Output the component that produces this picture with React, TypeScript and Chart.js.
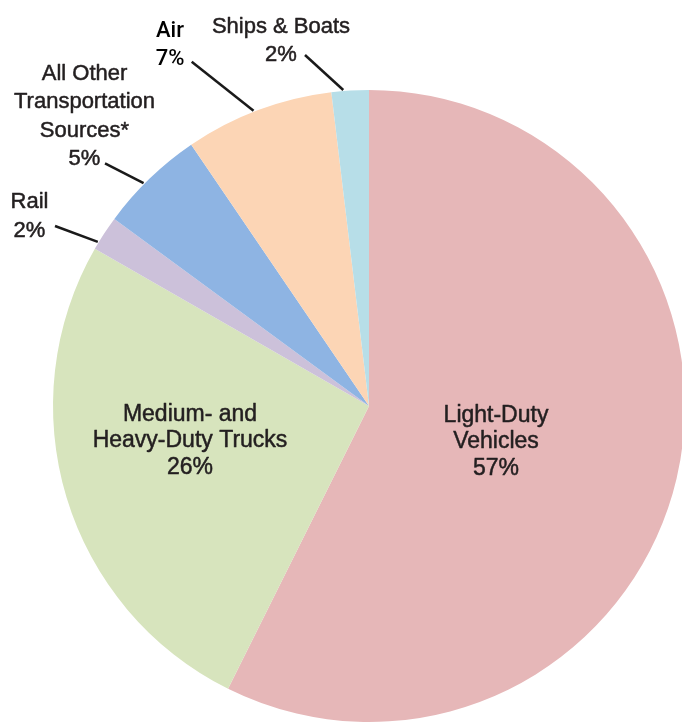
import React, { useEffect, useRef } from 'react';
import { Chart, registerables } from 'chart.js';

Chart.register(...registerables);

// ---- data ----
const categories = [
  'Light-Duty Vehicles',
  'Medium- and Heavy-Duty Trucks',
  'Rail',
  'All Other Transportation Sources*',
  'Air',
  'Ships & Boats',
];
const shareValues = [57.3, 25.9, 1.8, 5.4, 7.6, 1.9];
const percentLabels = ['57%', '26%', '2%', '5%', '7%', '2%'];
const labelLines = [
  ['Light-Duty', 'Vehicles'],
  ['Medium- and', 'Heavy-Duty Trucks'],
  ['Rail'],
  ['All Other', 'Transportation', 'Sources*'],
  ['Air'],
  ['Ships & Boats'],
];
const sliceColors = ['#E6B7B8', '#D7E4BD', '#CCC1DA', '#8EB4E3', '#FCD5B5', '#B7DEE8'];

// ---- label placement (relative to pie centre) ----
type Placement = {
  x: number;
  y: number; // first baseline
  lh: number;
  size: number;
  font: string;
  color: string;
  leader?: { sx: number; sy: number; frac: number };
};
const placements: Placement[] = [
  { x: 127, y: 15.7, lh: 26.7, size: 23, font: '"Liberation Sans"', color: '#231F20' },
  { x: -179, y: 14.7, lh: 26.7, size: 23, font: '"Liberation Sans"', color: '#231F20' },
  { x: -339.5, y: -197.7, lh: 29, size: 22, font: '"Liberation Sans"', color: '#231F20', leader: { sx: -314, sy: -180, frac: 0.21 } },
  { x: -284.5, y: -326.5, lh: 28.6, size: 22, font: '"Liberation Sans"', color: '#231F20', leader: { sx: -264, sy: -242.7, frac: 0.43 } },
  { x: -199, y: -369.3, lh: 28.3, size: 22, font: 'Roboto', color: '#000000', leader: { sx: -177.3, sy: -344.3, frac: 0.47 } },
  { x: -88, y: -373.5, lh: 28, size: 22, font: '"Liberation Sans"', color: '#231F20', leader: { sx: -64, sy: -351, frac: 0.32 } },
];

const labelPlugin = {
  id: 'pieLabels',
  afterDraw(chart: any) {
    const ctx = chart.ctx as CanvasRenderingContext2D;
    const meta = chart.getDatasetMeta(0);
    ctx.save();
    meta.data.forEach((arc: any, i: number) => {
      const p = placements[i];
      const cx = arc.x;
      const cy = arc.y;
      const lines = [...labelLines[i], percentLabels[i]];
      const isRoboto = p.font === 'Roboto';
      ctx.fillStyle = p.color;
      ctx.strokeStyle = p.color;
      ctx.lineWidth = 0.5;
      ctx.lineJoin = 'round';
      ctx.font = `${isRoboto ? '500 ' : ''}${p.size}px ${p.font}`;
      ctx.textAlign = 'center';
      ctx.textBaseline = 'alphabetic';
      lines.forEach((t, k) => {
        const tx = cx + p.x;
        const ty = cy + p.y + k * p.lh;
        ctx.fillText(t, tx, ty);
        if (!isRoboto) ctx.strokeText(t, tx, ty);
      });
      if (p.leader) {
        const a = arc.startAngle + p.leader.frac * (arc.endAngle - arc.startAngle);
        const r = arc.outerRadius + 1;
        ctx.beginPath();
        ctx.strokeStyle = '#1a1a1a';
        ctx.lineWidth = 2.5;
        ctx.moveTo(cx + p.leader.sx, cy + p.leader.sy);
        ctx.lineTo(cx + Math.cos(a) * r, cy + Math.sin(a) * r);
        ctx.stroke();
      }
    });
    ctx.restore();
  },
};

export default function App() {
  const ref = useRef<HTMLCanvasElement | null>(null);
  useEffect(() => {
    document.body.style.margin = '0';
    if (!ref.current) return;
    const chart = new Chart(ref.current, {
      type: 'pie',
      data: {
        labels: categories,
        datasets: [
          {
            data: shareValues,
            backgroundColor: sliceColors,
            borderWidth: 0,
          },
        ],
      },
      options: {
        animation: false,
        responsive: false,
        devicePixelRatio: 1,
        rotation: 0,
        layout: { padding: { left: 53, right: 55, top: 90, bottom: 1 } },
        plugins: {
          legend: { display: false },
          tooltip: { enabled: false },
        },
      },
      plugins: [labelPlugin],
    });
    return () => chart.destroy();
  }, []);
  return (
    <div style={{ position: 'relative', width: 682, height: 723, overflow: 'hidden', background: '#fff' }}>
      <canvas ref={ref} width={740} height={723} style={{ position: 'absolute', left: 0, top: 0, width: 740, height: 723 }} />
    </div>
  );
}
